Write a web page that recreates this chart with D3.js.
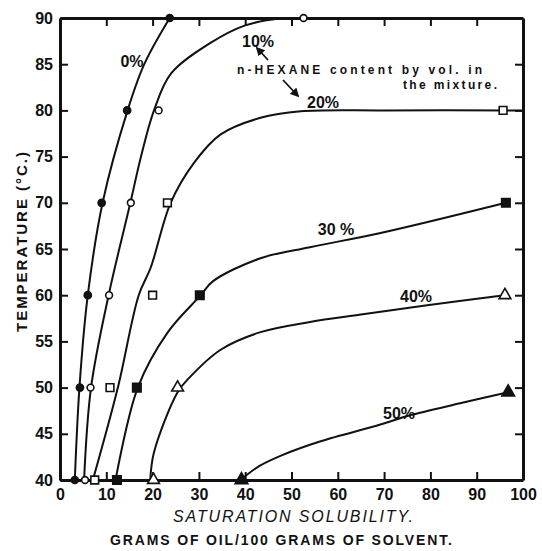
<!DOCTYPE html>
<html>
<head>
<meta charset="utf-8">
<script src="https://cdn.jsdelivr.net/npm/d3@7"></script>
<style>
    body { margin: 0; background: #fff; }
    text { font-family: "Liberation Sans", Arial, sans-serif; fill: #111; }
    .tick text { font-size: 16px; font-weight: bold; }
    .axis-label { font-weight: bold; }
    .curve { fill: none; stroke: #111; stroke-width: 2; }
</style>
</head>
<body>
<svg width="542" height="551"></svg>
<script>
// tick labels
const xTicks = [0, 10, 20, 30, 40, 50, 60, 70, 80, 90, 100];
const yTicks = [40, 45, 50, 55, 60, 65, 70, 75, 80, 85, 90];

// n-hexane content (% by vol.) of each curve
const hexane = ['0%', '10%', '20%', '30 %', '40%', '50%'];

// measured points [solubility, temperature]
const pts0 = [[3.2, 40], [4.3, 50], [6.0, 60], [9.0, 70], [14.5, 80], [23.7, 90]];
const pts10 = [[5.4, 40], [6.6, 50], [10.6, 60], [15.3, 70], [21.3, 80], [52.6, 90]];
const pts20 = [[7.5, 40], [10.8, 50], [20.0, 60], [23.2, 70], [95.7, 80]];
const pts30 = [[12.3, 40], [16.6, 50], [30.2, 60], [96.3, 70]];
const pts40 = [[20.2, 40], [25.4, 50], [96.1, 60]];
const pts50 = [[39.2, 40], [96.8, 49.5]];

// smoothed curves drawn through the points
const curve0 = [[3.2, 40], [4.2, 50], [6.0, 60], [9.2, 70], [14.6, 80], [18.2, 85], [23.7, 90]];
const curve10 = [[5.2, 40], [6.7, 50], [10.5, 60], [15.2, 70], [17.5, 75], [20.3, 80], [24, 84], [32.5, 87.3], [40, 89.2], [48, 90]];
const curve20 = [[7.1, 40], [12.5, 50], [17, 60], [19.6, 63], [23.9, 70], [28.9, 74.3], [34.7, 77.4], [43.3, 79.2], [52, 79.9], [70, 80], [100, 80]];
const curve30 = [[12, 40], [16.8, 50], [23.3, 56], [30.4, 60], [33, 61.5], [43.3, 64], [54, 65.2], [69, 66.7], [96.3, 70]];
const curve40 = [[19.5, 40], [20.3, 43], [25.4, 49.5], [27.8, 51], [34.7, 54.1], [43.3, 56], [54, 57.1], [65, 57.9], [79.3, 58.9], [96, 60]];
const curve50 = [[39, 40], [43, 41.5], [48, 42.7], [56.3, 44.2], [69.2, 46], [75.6, 47], [86.4, 48.3], [96.8, 49.5]];

const svg = d3.select('svg');
const xScale = d3.scaleLinear().domain([0, 100]).range([60, 523]);
const yScale = d3.scaleLinear().domain([40, 90]).range([480, 18]);

const line = d3.line()
    .x(d => xScale(d[0]))
    .y(d => yScale(d[1]))
    .curve(d3.curveCatmullRom.alpha(0.5));

//Axes on all four sides, ticks pointing inward
const addingAxes = () => {
    svg.append('g').attr('transform', 'translate(0,480)')
        .call(d3.axisBottom(xScale).tickValues(xTicks).tickSizeInner(-8).tickSizeOuter(0).tickPadding(9));
    svg.append('g').attr('transform', 'translate(60,0)')
        .call(d3.axisLeft(yScale).tickValues(yTicks).tickSizeInner(-8).tickSizeOuter(0).tickPadding(7));
    svg.append('g').attr('transform', 'translate(0,18)')
        .call(d3.axisTop(xScale).tickValues(xTicks.slice(1, -1)).tickSizeInner(-8).tickSizeOuter(0).tickFormat(''));
    svg.append('g').attr('transform', 'translate(523,0)')
        .call(d3.axisRight(yScale).tickValues(yTicks.slice(1, -1)).tickSizeInner(-8).tickSizeOuter(0).tickFormat(''));

    svg.selectAll('.domain').attr('stroke', '#111').attr('stroke-width', 3);
    svg.selectAll('.tick line').attr('stroke', '#111').attr('stroke-width', 2);
    svg.selectAll('.tick text').attr('fill', '#111');

    svg.append('text')
        .attr('class', 'axis-label')
        .attr('transform', 'translate(27,242) rotate(-90)')
        .attr('text-anchor', 'middle')
        .attr('font-size', 15)
        .attr('textLength', 180)
        .text('TEMPERATURE (°C.)');

    svg.append('text')
        .attr('x', 293).attr('y', 522)
        .attr('text-anchor', 'middle')
        .attr('font-size', 16)
        .attr('font-style', 'italic')
        .attr('textLength', 240)
        .text('SATURATION SOLUBILITY.');

    svg.append('text')
        .attr('class', 'axis-label')
        .attr('x', 281).attr('y', 545)
        .attr('text-anchor', 'middle')
        .attr('font-size', 14)
        .attr('textLength', 342)
        .text('GRAMS OF OIL/100 GRAMS OF SOLVENT.');
}

const drawCurves = () => {
    const curves = [curve0, curve10, curve20, curve30, curve40, curve50];
    svg.selectAll('.curve').data(curves)
        .enter().append('path').attr('class', 'curve')
        .attr('stroke-width', (d, i) => i === 0 ? 3 : 2)
        .attr('d', line);
}

const drawMarkers = () => {
    const sets = [
        { pts: pts0, type: d3.symbolCircle, size: 40, filled: true },
        { pts: pts10, type: d3.symbolCircle, size: 36, filled: false },
        { pts: pts20, type: d3.symbolSquare, size: 60, filled: false },
        { pts: pts30, type: d3.symbolSquare, size: 72, filled: true },
        { pts: pts40, type: d3.symbolTriangle, size: 60, filled: false },
        { pts: pts50, type: d3.symbolTriangle, size: 70, filled: true }
    ];
    sets.forEach(s => {
        svg.append('g').selectAll('path').data(s.pts)
            .enter().append('path')
            .attr('transform', d => `translate(${xScale(d[0])},${yScale(d[1])})`)
            .attr('d', d3.symbol().type(s.type).size(s.size))
            .attr('fill', s.filled ? '#111' : '#fff')
            .attr('stroke', '#111')
            .attr('stroke-width', 1.6);
    });
}

//Curve labels and the n-hexane note
const addingLabels = () => {
    const labelPos = [[132, 67], [258, 47], [323, 108], [336, 235], [416, 302], [399, 419]];
    svg.selectAll('.hex-label').data(hexane)
        .enter().append('text').attr('class', 'axis-label')
        .attr('x', (d, i) => labelPos[i][0])
        .attr('y', (d, i) => labelPos[i][1])
        .attr('text-anchor', 'middle')
        .attr('font-size', 16)
        .text(d => d);

    svg.append('text').attr('class', 'axis-label')
        .attr('x', 237).attr('y', 74).attr('font-size', 12)
        .attr('textLength', 245)
        .text('n-HEXANE content by vol. in');
    svg.append('text').attr('class', 'axis-label')
        .attr('x', 403).attr('y', 89).attr('font-size', 12)
        .attr('textLength', 94)
        .text('the mixture.');

    svg.append('defs').append('marker')
        .attr('id', 'head').attr('viewBox', '0 0 10 10')
        .attr('refX', 8).attr('refY', 5)
        .attr('markerWidth', 5).attr('markerHeight', 5)
        .attr('orient', 'auto')
        .append('path').attr('d', 'M0,0L10,5L0,10z').attr('fill', '#111');

    svg.append('line')
        .attr('x1', 268).attr('y1', 60).attr('x2', 257).attr('y2', 48)
        .attr('stroke', '#111').attr('stroke-width', 1.8)
        .attr('marker-end', 'url(#head)');
    svg.append('line')
        .attr('x1', 283).attr('y1', 80).attr('x2', 298).attr('y2', 96)
        .attr('stroke', '#111').attr('stroke-width', 1.8)
        .attr('marker-end', 'url(#head)');
}

drawCurves();
addingAxes();
drawMarkers();
addingLabels();
</script>
</body>
</html>
